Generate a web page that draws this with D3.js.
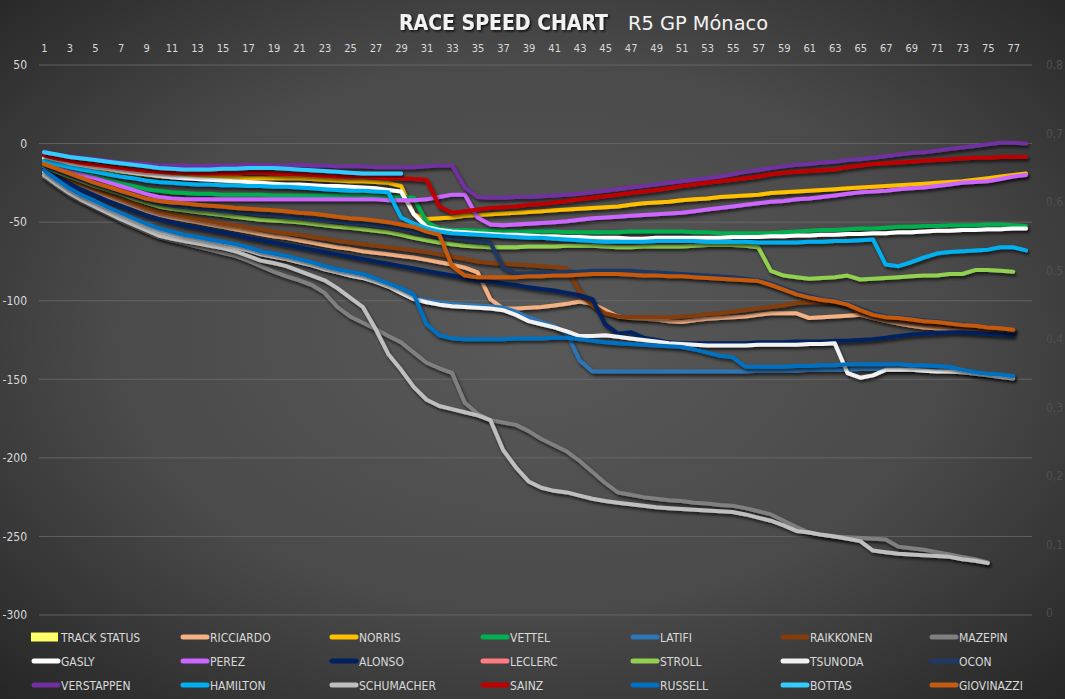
<!DOCTYPE html>
<html><head><meta charset="utf-8">
<script src="https://cdn.jsdelivr.net/npm/d3@7"></script>
<style>
body{margin:0;background:#3a3a3a;}
svg{display:block;}
text{font-family:"Liberation Sans Narrow","DejaVu Sans Condensed","Arial Narrow",sans-serif;}
</style>
</head><body>
<svg id="chart" width="1065" height="699"></svg>
<script>
const laps = [1,2,3,4,5,6,7,8,9,10,11,12,13,14,15,16,17,18,19,20,21,22,23,24,25,26,27,28,29,30,31,32,33,34,35,36,37,38,39,40,41,42,43,44,45,46,47,48,49,50,51,52,53,54,55,56,57,58,59,60,61,62,63,64,65,66,67,68,69,70,71,72,73,74,75,76,77,78];
const lapLabels = [1,3,5,7,9,11,13,15,17,19,21,23,25,27,29,31,33,35,37,39,41,43,45,47,49,51,53,55,57,59,61,63,65,67,69,71,73,75,77];
const leftTicks = [50,0,-50,-100,-150,-200,-250,-300];
const rightTicks = [0,0.1,0.2,0.3,0.4,0.5,0.6,0.7,0.8];

const trackStatus = [0,0,0,0,0,0,0,0,0,0,0,0,0,0,0,0,0,0,0,0,0,0,0,0,0,0,0,0,0,0,0,0,0,0,0,0,0,0,0,0,0,0,0,0,0,0,0,0,0,0,0,0,0,0,0,0,0,0,0,0,0,0,0,0,0,0,0,0,0,0,0,0,0,0,0,0,0,0];

const ricciardo = [-15.5,-20,-24,-28,-31,-34,-37,-40,-43,-45.5,-47,-48.5,-50,-51.5,-53,-54.5,-56,-57.5,-59,-60,-61.5,-63,-64.5,-66,-67,-68.5,-69.5,-70.5,-71.5,-72.5,-74,-75.5,-77,-79,-82,-99,-105,-105,-104.5,-104,-103,-102,-100.5,-102,-106,-110,-111,-111.5,-112,-113,-113.5,-112.5,-111.5,-111,-110.5,-110,-109,-108,-108,-108,-111,-110.5,-110,-109.5,-109,-111,-113,-114.5,-116,-117,-117.5,-118,-118.5,-118.5,-119,-119,-119.5];
const norris = [-10,-12,-13.5,-15,-16,-17,-18,-19,-20,-21,-21,-21.5,-21.5,-21.5,-21.5,-21.5,-22,-22,-22,-22,-22,-22.5,-23,-23.5,-24,-24,-24.5,-25,-27,-45,-48,-47.5,-47,-46,-45.5,-45,-44.5,-44,-43.5,-43,-42.5,-42,-41.5,-41,-40.5,-40,-39,-38,-37.5,-37,-36,-35.5,-35,-34,-33.5,-33,-32.5,-31.5,-31,-30.5,-30,-29.5,-29,-28.5,-28,-27.5,-27,-26.5,-26,-25.5,-25,-24.5,-24,-23,-22,-21,-20,-19];
const vettel = [-12,-14.5,-17,-19,-21,-23,-25,-27,-29,-30,-31,-31.5,-32,-32,-32.5,-32.5,-32.5,-32.5,-33,-33,-33,-33,-33,-33,-33,-33,-33.5,-34,-34,-34.5,-50,-54,-55,-55,-55.5,-55.5,-55.5,-56,-56,-56,-56,-56.5,-56.5,-56.5,-56.5,-56.5,-56,-56,-56,-56,-56,-56.5,-56.5,-57,-57,-57,-57,-57,-56.5,-56,-55.5,-55,-55,-54.5,-54,-54,-53.5,-53,-53,-52.5,-52.5,-52,-52,-52,-51.5,-51.5,-52,-52.5];
const latifi = [-17.5,-23.5,-29,-33.5,-37,-41,-44.5,-48,-51.5,-54.5,-56.5,-58.5,-60,-61.5,-63,-64.5,-66.5,-69,-70.5,-72,-74,-76,-78.5,-80.5,-82,-83.5,-86.5,-89.5,-93,-98,-100,-101,-102,-102.5,-103,-103.5,-104.5,-107,-110.5,-113.5,-116,-121,-138,-145,-145,-145,-145,-145,-145,-145,-145,-145,-145,-145,-145,-145,-144.5,-144.5,-144.5,-144.5,-144,-144,-144,-144,-143.5,-143.5,-143.5,-143.5,-143.5,-143.5,-143.5,-143.5,-144.5,-146,-147,-147.5,-148];
const raikkonen = [-15,-19,-22.5,-26,-29,-32,-35,-38,-41,-43.5,-45,-46.5,-48,-49.5,-51,-52,-53.5,-54.5,-56,-57,-58,-59.5,-60.5,-62,-63,-64,-65,-66,-67,-68,-69,-70.5,-72,-73.5,-75,-76,-76.5,-77,-77.5,-78,-78.5,-79.5,-94,-103,-108,-110,-110.5,-110.5,-110.5,-110.5,-110,-109.5,-108.5,-108,-107,-106,-105,-104,-103,-101.5,-101,-101,-101,-103,-107.5,-110,-111.5,-112.5,-113.5,-114.5,-115.5,-116,-116.5,-117,-117.5,-118,-118.5];
const mazepin = [-21,-27,-32.5,-37,-41,-45,-49,-52.5,-56,-59.5,-61.5,-63.5,-65.5,-67.5,-69.5,-71.5,-74.5,-78,-81.5,-84.5,-87,-90,-95,-104,-110,-114,-118,-122.5,-126.5,-133,-139.5,-143,-146,-165,-172,-176,-177.5,-179,-183,-188,-192,-196,-202,-209,-216,-222,-223.5,-225,-226,-227,-227.5,-228.5,-229,-230,-230.5,-232,-234,-236,-240,-244,-247.5,-249,-250,-250.5,-251,-251.5,-252,-256.5,-257.5,-258.5,-260,-261.5,-263,-264.5,-266.5];
const gasly = [-9,-11,-13,-14,-15,-16,-17.5,-18.5,-19.5,-20.5,-21.5,-22,-22.5,-23,-23.5,-24,-24.5,-25,-25.5,-26,-26,-26.5,-27,-27,-27.5,-28,-28.5,-29.5,-30.5,-45,-53,-55,-56,-56.5,-57,-57.5,-58,-58,-58.5,-59,-59,-59.5,-59.5,-60,-60,-60,-60.5,-60.5,-60,-60,-60,-60,-60,-60,-59.5,-59.5,-59.5,-59,-59,-58.5,-58.5,-58,-58,-57.5,-57.5,-57,-57,-56.5,-56.5,-56,-55.5,-55.5,-55,-55,-54.5,-54.5,-54,-54];
const perez = [-13,-15.5,-18,-20,-22,-24.5,-27,-29.5,-32,-34,-35,-35.5,-35.5,-35.5,-35.5,-35.5,-35.5,-35.5,-35.5,-35.5,-35.5,-35.5,-35.5,-35.5,-35.5,-35.5,-35.5,-36,-36,-36,-35.5,-34,-32.5,-32.5,-47,-51.5,-52,-51.5,-51,-50.5,-50,-49.5,-48.5,-47.5,-47,-46.5,-46,-45.5,-45,-44.5,-44,-43,-42,-41,-40,-39,-38,-37,-36.5,-35.5,-35,-34,-33,-32,-31,-30.5,-30,-29,-28.5,-28,-27,-26,-25,-24.5,-24,-22.5,-21,-20];
const alonso = [-16,-21,-25.5,-29.5,-33,-36.5,-39.5,-42.5,-45.5,-48,-50,-52,-53.5,-55,-56.5,-58,-60,-61.5,-63,-64.5,-66,-67.5,-69,-70.5,-72,-73.5,-75,-76.5,-78,-79.5,-81,-82.5,-84,-85.5,-87,-88,-89,-90,-91.5,-92.5,-93.5,-95,-96.5,-99,-115,-121,-120,-123.5,-125,-126.5,-127,-127,-127,-127,-127,-127,-126.5,-126.5,-126.5,-126,-126,-126,-125.5,-125.5,-125,-124.5,-123.5,-122.5,-121.5,-121,-120.5,-120,-120,-120.5,-121,-121.5,-122];
const leclerc = [];
const stroll = [-14.5,-18,-21,-24,-27,-29.5,-32,-35,-37.5,-40,-41.5,-42.5,-43.5,-44.5,-45.5,-46.5,-47.5,-48.5,-49,-49.5,-50,-51,-52,-53,-53.5,-54.5,-55.5,-56.5,-58,-60,-61.5,-63,-64,-65,-65.5,-66,-66,-66,-65.5,-65.5,-65.5,-65,-65,-65,-65.5,-66,-66,-65.5,-65.5,-65.5,-65.5,-65,-64.5,-64.5,-64.5,-65,-66,-81,-84,-85,-86,-85.5,-85,-84,-86.5,-86,-85.5,-85,-84.5,-84,-84,-83,-83,-80.5,-80.5,-81,-81.5];
const tsunoda = [-18,-24,-30,-34.5,-38,-42,-45.5,-49,-52.5,-56,-58,-60,-61.5,-63,-64.5,-66,-68,-70.5,-72,-73.5,-75.5,-77.5,-80,-82,-84,-85.5,-88,-91,-95,-99,-101,-102.5,-103.5,-104,-104.5,-105,-106,-109,-113,-115,-117,-119.5,-122.5,-122.5,-122,-123,-124,-125,-126,-127,-127.5,-128,-128.5,-128.5,-128.5,-128.5,-128,-128,-128,-128,-127.5,-127.5,-127,-146,-149,-147.5,-144,-144,-144,-144.5,-145,-145,-145.5,-146.5,-147.5,-148.5,-149.5];
const ocon = [-14,-17,-20,-23,-26,-28.5,-31,-33.5,-36,-38,-39.5,-40.5,-41.5,-42,-43,-43.5,-44,-45,-45.5,-46.5,-47,-48,-49,-49.5,-50.5,-51,-52,-53,-54.5,-56,-57.5,-59,-60,-61,-62,-63,-79,-82.5,-82.5,-82,-82,-81.5,-81.5,-81,-81,-81,-81,-81.5,-82,-82.5,-83,-83.5,-84,-84.5,-85,-86,-87,-89,-92,-95,-97,-99,-100,-102,-105,-108,-110,-110.5,-111.5,-112.5,-113,-114,-115,-116,-117,-118,-119.5];
const verstappen = [-5,-7,-8,-9,-10,-11,-12,-12.5,-13,-14,-14,-14,-14.5,-14,-14,-14,-13.5,-14,-14,-14,-13.5,-14,-14,-14.5,-14.5,-14.5,-15,-15,-15,-15,-14.5,-14,-14,-28,-34,-34.5,-34.5,-34,-34,-33.5,-33,-32.5,-32,-31,-30,-29,-28,-27,-26,-25,-24,-23,-22,-21,-19.5,-18,-17,-15.5,-14.5,-13.5,-13,-12,-11.5,-10.5,-10,-9,-8,-7,-6,-5.5,-4.5,-3.5,-2.5,-1.5,-0.5,0.5,0.5,0];
const hamilton = [-11,-13,-15,-16.5,-18,-19.5,-21,-22,-23.5,-24.5,-25,-25.5,-26,-26,-26.5,-26.5,-27,-27,-27.5,-27.5,-28,-28.5,-29,-29.5,-30,-30,-30.5,-31,-47,-51,-54,-56,-57,-57.5,-58,-58.5,-59,-59.5,-60,-60,-60.5,-61,-61.5,-62,-62.5,-62.5,-62.5,-62.5,-62,-62,-62,-62,-62.5,-62.5,-62.5,-62.5,-63,-63,-63,-63,-62.5,-62.5,-62,-62,-61.5,-61,-77,-78,-75.5,-72.5,-70,-69,-68.5,-68,-67.5,-66,-66,-68];
const schumacher = [-20,-26,-31.5,-36,-40,-44,-48,-51.5,-55,-58.5,-60.5,-62,-63.5,-65,-66.5,-68.5,-71.5,-74.5,-76,-78,-81,-84,-87,-92,-98,-104,-118,-134,-144,-155,-163,-167,-169,-171,-173,-176,-195,-206,-215,-219,-221,-222,-224,-226,-227.5,-228.5,-229.5,-230.5,-231.5,-232,-232.5,-233,-233.5,-234,-234.5,-236,-238,-240,-243,-246.5,-247.5,-249,-250,-251.5,-253,-259,-260,-261,-261.5,-262,-262.5,-263,-264.5,-265.5,-267];
const sainz = [-7.5,-9.5,-11,-12.5,-13.5,-14.5,-15.5,-16.5,-17.5,-18,-18.5,-18.5,-19,-19,-19,-19,-18.5,-18.5,-19,-19.5,-19.5,-20,-20.5,-21,-21,-21,-21.5,-22,-22,-22.5,-23,-40,-44,-43,-42,-41,-40.5,-40,-39,-38.5,-37.5,-36.5,-35.5,-34.5,-33.5,-32.5,-31.5,-30.5,-29.5,-28.5,-27,-26,-25,-24,-23,-22,-21,-19.5,-18.5,-18,-17.5,-17,-16.5,-15,-14,-13,-12.5,-12,-11.5,-11,-10.5,-10,-9.5,-9,-9,-8.5,-8.5,-8.5];
const russell = [-17,-23,-28.5,-33,-36.5,-40.5,-44,-47.5,-51,-54,-56,-58,-59.5,-61,-62.5,-64,-66,-68.5,-70,-71.5,-73.5,-75.5,-78,-80,-81.5,-83,-86,-89,-92,-96,-115,-122,-124,-124.5,-124.5,-124.5,-124.5,-124,-124,-124,-123.5,-123.5,-124.5,-125.5,-126.5,-127,-127.5,-128,-128.5,-129,-129.5,-131,-133,-135,-136,-142,-142,-142,-142,-141.5,-141.5,-141,-141,-140.5,-140.5,-140.5,-140.5,-140.5,-141,-141,-141.5,-142,-144,-145.5,-146.5,-147,-148];
const bottas = [-5.5,-7,-8.5,-9.5,-10.5,-11.5,-12.5,-13.5,-14.5,-15.5,-16,-16.5,-16.5,-16.5,-16,-16,-15.5,-15.5,-15.5,-16,-16.5,-17,-17.5,-18,-18.5,-19,-19,-19,-19];
const giovinazzi = [-13,-16,-19,-22,-25,-27.5,-30,-32.5,-35,-36.5,-37.5,-38,-39,-39.5,-40,-41,-41.5,-42,-42.5,-43,-44,-44.5,-45.5,-46.5,-47.5,-48,-49,-50,-51.5,-53,-56,-58,-78,-84,-85,-85,-85,-85,-84.5,-84.5,-84,-84,-83.5,-83,-83,-83,-83.5,-84,-84,-84.5,-84.5,-85,-85.5,-86,-86.5,-87,-87.5,-90,-93,-96,-98,-99.5,-100.5,-102.5,-106,-109,-110.5,-111,-112,-113,-113.5,-114.5,-115.5,-116,-117,-117.5,-118.5];

const series = [
  {name:"TRACK STATUS", color:"#ffff66", data:trackStatus, bar:true},
  {name:"RICCIARDO", color:"#f4b183", data:ricciardo},
  {name:"NORRIS", color:"#ffc000", data:norris},
  {name:"VETTEL", color:"#00b050", data:vettel},
  {name:"LATIFI", color:"#2e75b6", data:latifi},
  {name:"RAIKKONEN", color:"#843c0c", data:raikkonen},
  {name:"MAZEPIN", color:"#808080", data:mazepin},
  {name:"GASLY", color:"#ffffff", data:gasly},
  {name:"PEREZ", color:"#cc66ff", data:perez},
  {name:"ALONSO", color:"#002060", data:alonso},
  {name:"LECLERC", color:"#ff7c80", data:leclerc},
  {name:"STROLL", color:"#92d050", data:stroll},
  {name:"TSUNODA", color:"#f2f2f2", data:tsunoda},
  {name:"OCON", color:"#1f3864", data:ocon},
  {name:"VERSTAPPEN", color:"#7030a0", data:verstappen},
  {name:"HAMILTON", color:"#00b0f0", data:hamilton},
  {name:"SCHUMACHER", color:"#bfbfbf", data:schumacher},
  {name:"SAINZ", color:"#c00000", data:sainz},
  {name:"RUSSELL", color:"#0070c0", data:russell},
  {name:"BOTTAS", color:"#33ccff", data:bottas},
  {name:"GIOVINAZZI", color:"#c55a11", data:giovinazzi}
];

const W = 1065, H = 699;
const svg = d3.select("#chart");
const defs = svg.append("defs");
const grad = defs.append("radialGradient").attr("id","bg").attr("cx","50%").attr("cy","48%").attr("r","72%");
grad.append("stop").attr("offset","0%").attr("stop-color","#595959");
grad.append("stop").attr("offset","55%").attr("stop-color","#4a4a4a");
grad.append("stop").attr("offset","100%").attr("stop-color","#262626");
const sh = defs.append("filter").attr("id","shadow").attr("x","-10%").attr("y","-10%").attr("width","120%").attr("height","130%");
sh.append("feDropShadow").attr("dx",1.5).attr("dy",2.5).attr("stdDeviation",1.6).attr("flood-color","#000").attr("flood-opacity",0.65);
const tsh = defs.append("filter").attr("id","tshadow");
tsh.append("feDropShadow").attr("dx",1.5).attr("dy",1.5).attr("stdDeviation",1).attr("flood-color","#000").attr("flood-opacity",0.8);

svg.append("rect").attr("width",W).attr("height",H).attr("fill","url(#bg)");

const x = d3.scalePoint().domain(laps).range([44, 1026]);
const y = d3.scaleLinear().domain([-300, 50]).range([615, 65]);
const y2 = d3.scaleLinear().domain([0, 0.8]).range([613, 65]);

// gridlines
svg.append("g").selectAll("line").data(leftTicks).join("line")
  .attr("x1",39).attr("x2",1032).attr("y1",d=>y(d)).attr("y2",d=>y(d))
  .attr("stroke","#6e6e6e").attr("stroke-width",1).attr("opacity",0.75);

// top category axis
const gx = svg.append("g").attr("transform","translate(0,52)")
  .call(d3.axisTop(x).tickValues(lapLabels).tickSize(0).tickPadding(0));
gx.select(".domain").remove();
gx.selectAll("text").attr("fill","#d9d9d9").style("font-size","11px");

// left axis (plain hyphen minus, as in the reference)
const gy = svg.append("g").attr("transform","translate(27,0)")
  .call(d3.axisLeft(y).tickValues(leftTicks).tickSize(0).tickPadding(0).tickFormat(d => String(d)));
gy.select(".domain").remove();
gy.selectAll("text").attr("fill","#d9d9d9").style("font-size","12px");

// right axis
const gy2 = svg.append("g").attr("transform","translate(1046,0)")
  .call(d3.axisRight(y2).tickValues(rightTicks).tickSize(0).tickPadding(0)
    .tickFormat(d => d === 0 ? "0" : d3.format(".1f")(d).replace(".", ",")));
gy2.select(".domain").remove();
gy2.selectAll("text").attr("fill","#4f4f4f").style("font-size","12px");

// track status bars (secondary axis)
const bw = x.step() * 0.6;
svg.append("g").selectAll("rect").data(trackStatus).join("rect")
  .attr("x",(d,i)=>x(laps[i]) - bw/2).attr("width",bw)
  .attr("y",d=>y2(d)).attr("height",d=>y2(0)-y2(d)).attr("fill","#ffff66");

// lines
const line = d3.line().x((d,i)=>x(laps[i])).y(d=>y(d));
const lg = svg.append("g");
series.filter(s=>!s.bar && s.data.length>1).forEach(s=>{
  lg.append("path").attr("d", line(s.data)).attr("fill","none")
    .attr("stroke", s.color).attr("stroke-width", 4)
    .attr("stroke-linejoin","round").attr("stroke-linecap","round")
    .attr("filter","url(#shadow)");
});

// title
svg.append("text").attr("x",399).attr("y",30).text("RACE SPEED CHART")
  .attr("fill","#f2f2f2").style("font-size","21px").style("font-weight","bold")
  .attr("textLength",209).attr("lengthAdjust","spacingAndGlyphs").attr("filter","url(#tshadow)");
svg.append("text").attr("x",628).attr("y",29.5).text("R5 GP Mónaco")
  .attr("fill","#f2f2f2").style("font-size","20px")
  .attr("textLength",140).attr("lengthAdjust","spacingAndGlyphs");

// legend
const colX = [31,180,329,480,630,780,929];
const rowY = [637,661,685];
const leg = svg.append("g");
series.forEach((s,i)=>{
  const cx = colX[i % 7], cy = rowY[Math.floor(i / 7)];
  if (s.bar) {
    leg.append("rect").attr("x",cx).attr("y",cy-4.5).attr("width",27).attr("height",9).attr("fill",s.color);
  } else {
    leg.append("line").attr("x1",cx+3).attr("x2",cx+27).attr("y1",cy).attr("y2",cy)
      .attr("stroke",s.color).attr("stroke-width",5).attr("stroke-linecap","round");
  }
  leg.append("text").attr("x",cx+30).attr("y",cy+4.5).text(s.name)
    .attr("fill","#d9d9d9").style("font-size","12px");
});
</script>
</body></html>
